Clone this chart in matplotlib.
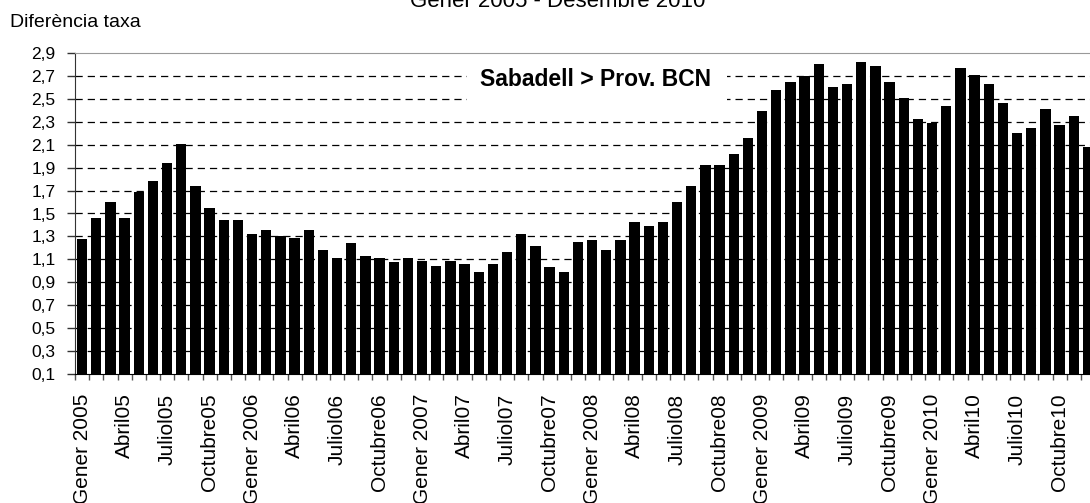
import numpy as np
import matplotlib
matplotlib.use("Agg")
import matplotlib.pyplot as plt
from matplotlib.patches import Rectangle

plt.rcParams['font.family'] = ['Liberation Sans', 'DejaVu Sans']
plt.rcParams['lines.scale_dashes'] = False

# diferencia de taxa Sabadell - Prov. BCN, gener 2005 .. desembre 2010
taxa_2005 = [1.28, 1.46, 1.60, 1.46, 1.69, 1.78, 1.94, 2.11, 1.74, 1.55, 1.44, 1.44]
taxa_2006 = [1.32, 1.36, 1.30, 1.29, 1.36, 1.18, 1.11, 1.24, 1.13, 1.11, 1.08, 1.11]
taxa_2007 = [1.09, 1.04, 1.09, 1.06, 0.99, 1.06, 1.16, 1.32, 1.22, 1.03, 0.99, 1.25]
taxa_2008 = [1.27, 1.18, 1.27, 1.43, 1.39, 1.43, 1.60, 1.74, 1.92, 1.92, 2.02, 2.16]
taxa_2009 = [2.39, 2.58, 2.65, 2.70, 2.80, 2.60, 2.63, 2.82, 2.79, 2.65, 2.51, 2.32]
taxa_2010 = [2.29, 2.44, 2.77, 2.71, 2.63, 2.46, 2.20, 2.25, 2.41, 2.27, 2.35, 2.08]

tick_labels = ["Gener 2005", "Abril05", "Juliol05", "Octubre05",
               "Gener 2006", "Abril06", "Juliol06", "Octubre06",
               "Gener 2007", "Abril07", "Juliol07", "Octubre07",
               "Gener 2008", "Abril08", "Juliol08", "Octubre08",
               "Gener 2009", "Abril09", "Juliol09", "Octubre09",
               "Gener 2010", "Abril10", "Juliol10", "Octubre10"]

y_ticks = [0.1, 0.3, 0.5, 0.7, 0.9, 1.1, 1.3, 1.5, 1.7, 1.9, 2.1, 2.3, 2.5, 2.7, 2.9]

values = taxa_2005 + taxa_2006 + taxa_2007 + taxa_2008 + taxa_2009 + taxa_2010
x = np.arange(len(values))

fig = plt.figure(figsize=(10.9, 5.03), dpi=100)
ax = fig.add_axes([75 / 1090, 129 / 503, 1020 / 1090, 321 / 503])

ax.bar(x, values, width=0.73, color='black', zorder=3)

ax.set_xlim(-0.5, len(values) - 0.5)
ax.set_ylim(0.1, 2.9)

# y axis with comma decimals
ax.set_yticks(y_ticks)
ax.set_yticklabels([f"{v:.1f}".replace('.', ',') for v in y_ticks], fontsize=12.5)
ax.tick_params(axis='y', length=6, width=1, pad=8, color='#333333')
for v in y_ticks[1:-1]:
    ax.axhline(v, color='black', lw=0.9, dashes=(5.2, 3.6), zorder=1)

# x axis: ticks between months, labels every three months
ax.set_xticks(np.arange(0, len(values), 3))
ax.set_xticklabels(tick_labels, rotation=90, fontsize=15)
ax.set_xticks(np.arange(-0.5, len(values), 1), minor=True)
ax.tick_params(axis='x', which='major', length=0, pad=14)
ax.tick_params(axis='x', which='minor', length=4, width=1, color='#555555')

ax.spines['top'].set_color('#999999')
ax.spines['left'].set_color('#333333')
ax.spines['bottom'].set_color('black')
ax.spines['right'].set_visible(False)

# white box behind the annotation
fig.patches.append(Rectangle((467 / 1090, 1 - 110 / 503), 260 / 1090, 50 / 503,
                             transform=fig.transFigure, facecolor='white',
                             edgecolor='none', zorder=5))
fig.text(596 / 1090, 1 - 79 / 503, "Sabadell > Prov. BCN", fontsize=16.5,
         fontweight='bold', ha='center', va='center', zorder=6)

fig.text(558 / 1090, 1 - 6.7 / 503, "Gener 2005 - Desembre 2010", fontsize=16,
         ha='center', va='baseline')
fig.text(10 / 1090, 1 - 27 / 503, "Diferència taxa", fontsize=14,
         ha='left', va='baseline')

fig.savefig('out.png', dpi=100)
